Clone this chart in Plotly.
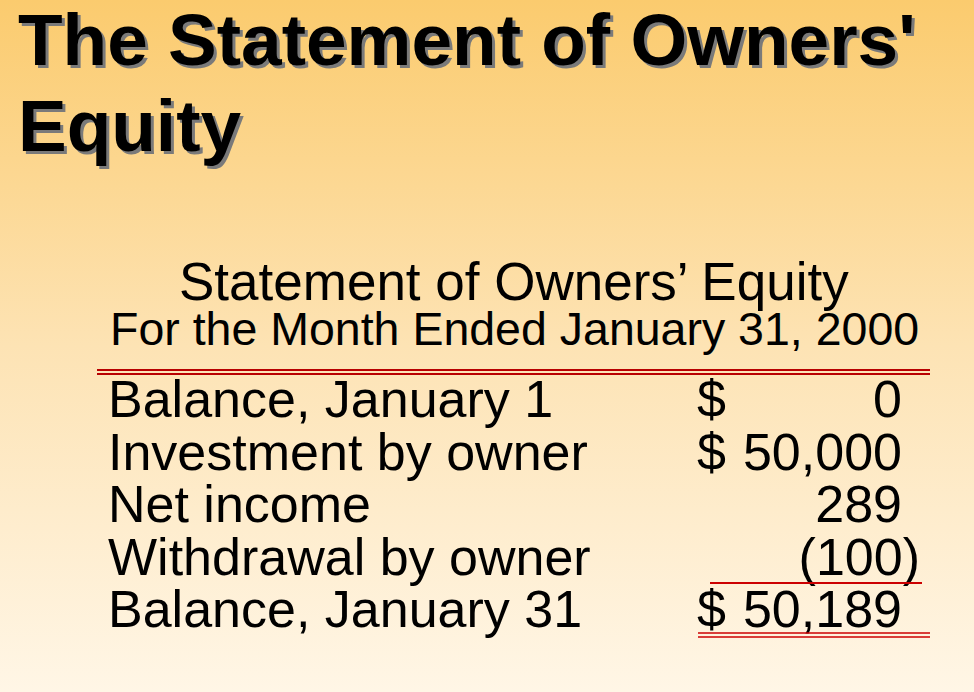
import base64
import plotly.graph_objects as go

# statement content
title_lines = ["The Statement of Owners'", "Equity"]
heading = "Statement of Owners\u2019 Equity"
subheading = "For the Month Ended January 31, 2000"
row_labels = ["Balance, January 1", "Investment by owner", "Net income",
              "Withdrawal by owner", "Balance, January 31"]
row_dollar = [True, True, False, False, True]
row_amounts = [0, 50000, 289, -100, 50189]

FONT = "Liberation Sans, Arial, sans-serif"
W, H = 974, 692


def fmt(v):
    s = f"{abs(v):,}"
    return f"({s})" if v < 0 else s


# background gradient as an inline svg image
svg = ('<svg xmlns="http://www.w3.org/2000/svg" width="974" height="692">'
       '<defs><linearGradient id="g" x1="0" y1="0" x2="0" y2="1">'
       '<stop offset="0" stop-color="#FBCB6E"/>'
       '<stop offset="0.5" stop-color="#FDE3B4"/>'
       '<stop offset="1" stop-color="#FFF6E6"/>'
       '</linearGradient></defs>'
       '<rect width="100%" height="100%" fill="url(#g)"/></svg>')
bg = "data:image/svg+xml;base64," + base64.b64encode(svg.encode()).decode()

row_y = [404 + 52.5 * i for i in range(len(row_labels))]

fig = go.Figure()

# labels
fig.add_trace(go.Scatter(
    x=[108] * len(row_labels), y=row_y, text=row_labels, mode="text",
    textposition="middle right",
    textfont=dict(family=FONT, size=52, color="black"), hoverinfo="skip"))

# dollar signs
dy = [y for y, d in zip(row_y, row_dollar) if d]
fig.add_trace(go.Scatter(
    x=[697] * len(dy), y=dy, text=["$"] * len(dy), mode="text",
    textposition="middle right",
    textfont=dict(family=FONT, size=52, color="black"), hoverinfo="skip"))

# amounts, parens hang past the column edge
fig.add_trace(go.Scatter(
    x=[920 if v < 0 else 902 for v in row_amounts], y=row_y,
    text=[fmt(v) for v in row_amounts], mode="text",
    textposition="middle left",
    textfont=dict(family=FONT, size=52, color="black"), hoverinfo="skip"))

ann = []
# title with drop shadow
for i, line in enumerate(title_lines):
    for off, col in ((3, "#7a7a7a"), (0, "black")):
        ann.append(dict(x=16 + off, y=39 + 86 * i + off, text=line,
                        xref="x", yref="y", xanchor="left", yanchor="middle",
                        showarrow=False,
                        font=dict(family=FONT, size=73, color=col, weight="bold")))
ann.append(dict(x=514, y=281, text=heading, xref="x", yref="y",
                xanchor="center", yanchor="middle", showarrow=False,
                font=dict(family=FONT, size=53, color="black")))
ann.append(dict(x=514, y=329, text=subheading, xref="x", yref="y",
                xanchor="center", yanchor="middle", showarrow=False,
                font=dict(family=FONT, size=46.5, color="black")))

red = "#B80000"
shapes = []
for yy in (370, 374):
    shapes.append(dict(type="line", x0=97, x1=930, y0=yy, y1=yy, xref="x", yref="y",
                       line=dict(color=red, width=1.8)))
shapes.append(dict(type="line", x0=710, x1=922, y0=583, y1=583, xref="x", yref="y",
                   line=dict(color="#CC0000", width=2)))
for yy in (633, 637):
    shapes.append(dict(type="line", x0=698, x1=930, y0=yy, y1=yy, xref="x", yref="y",
                       line=dict(color="#CC0000", width=1.5)))

fig.update_layout(
    width=W, height=H, margin=dict(l=0, r=0, t=0, b=0),
    paper_bgcolor="#FDE3B4", plot_bgcolor="rgba(0,0,0,0)",
    showlegend=False, annotations=ann, shapes=shapes,
    images=[dict(source=bg, xref="paper", yref="paper", x=0, y=1, sizex=1, sizey=1,
                 sizing="stretch", layer="below", xanchor="left", yanchor="top")],
    xaxis=dict(range=[0, W], visible=False, fixedrange=True),
    yaxis=dict(range=[H, 0], visible=False, fixedrange=True),
)

fig.write_html("out.html", config={"displayModeBar": False},
               post_script="document.body.style.margin='0';")
